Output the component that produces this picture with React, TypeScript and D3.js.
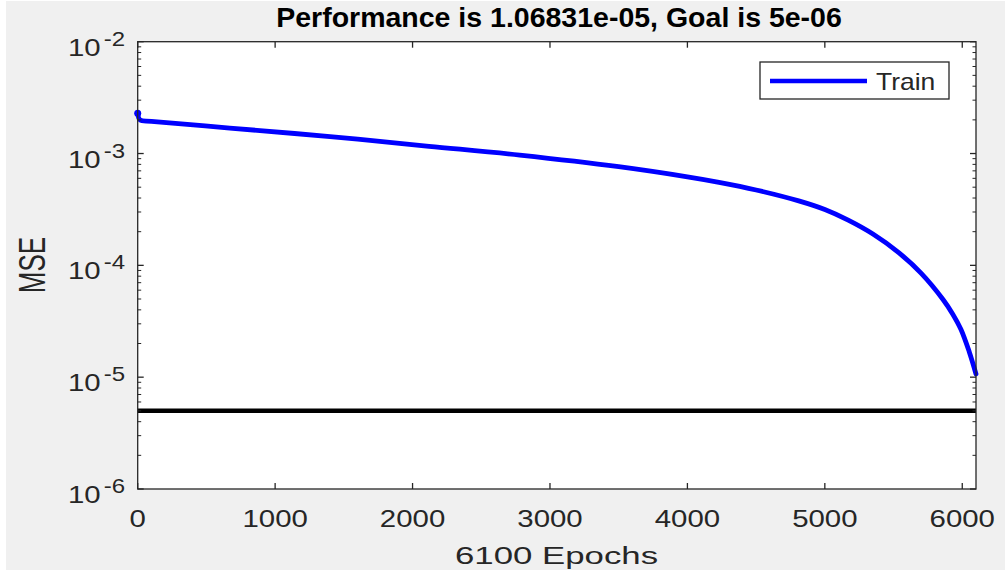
import React from "react";
import * as d3 from "d3";

const epochs = [0, 17, 100, 670, 1400, 2120, 2780, 3500, 4000, 4230, 4500, 4810, 5000, 5170, 5350, 5540, 5700, 5860, 5930, 5990, 6050, 6100];
const mse = [2.291e-3, 1.995e-3, 1.941e-3, 1.69e-3, 1.416e-3, 1.161e-3, 9.68e-4, 7.62e-4, 6.18e-4, 5.52e-4, 4.72e-4, 3.77e-4, 3.155e-4, 2.535e-4, 1.905e-4, 1.294e-4, 8.53e-5, 4.955e-5, 3.68e-5, 2.685e-5, 1.7e-5, 1.06831e-5];
const goal = 5e-6;
const xTicks = [0, 1000, 2000, 3000, 4000, 5000, 6000];
const yExponents = [-2, -3, -4, -5, -6];
const title = "Performance is 1.06831e-05, Goal is 5e-06";
const xLabel = "6100 Epochs";
const yLabel = "MSE";
const legendLabel = "Train";

const W = 1005, H = 572;
const L = 137.7, R = 976, T = 41.7, B = 489;
const AX = "#262626";
const FONT = "'Liberation Sans', Arial, Helvetica, sans-serif";

export default function App() {
  const x = d3.scaleLinear().domain([0, 6100]).range([L, R]);
  const y = d3.scaleLog().domain([1e-6, 1e-2]).range([B, T]);
  const line = d3.line<number>().x((_, i) => x(epochs[i])).y((d) => y(d)).curve(d3.curveCatmullRom.alpha(0.5));
  const minor = y.ticks().filter((v) => Math.abs(Math.log10(v) - Math.round(Math.log10(v))) > 1e-6);
  const sx = 1.2;
  return (
    <svg width={W} height={H} style={{ position: "fixed", left: 0, top: 0, background: "#fff" }} fontFamily={FONT}>
      <rect x={6} y={1} width={W - 6} height={569} fill="#f0f0f0" />
      <rect x={L} y={T} width={R - L} height={B - T} fill="#fff" />
      {/* goal line */}
      <line x1={x(0)} x2={x(6100)} y1={y(goal)} y2={y(goal)} stroke="#000" strokeWidth={4.5} />
      {/* performance */}
      <path d={line(mse) || ""} fill="none" stroke="#0000ff" strokeWidth={4.8} strokeLinejoin="round" strokeLinecap="round" />
      <circle cx={x(0)} cy={y(mse[0])} r={3.5} fill="#0000ff" />
      {/* axes box */}
      <rect x={L} y={T} width={R - L} height={B - T} fill="none" stroke={AX} strokeWidth={1.3} />
      {xTicks.map((t) => (
        <g key={"xt" + t}>
          <line x1={x(t)} x2={x(t)} y1={B} y2={B - 6} stroke={AX} strokeWidth={1.3} />
          <line x1={x(t)} x2={x(t)} y1={T} y2={T + 6} stroke={AX} strokeWidth={1.3} />
          <text transform={`translate(${x(t)},527) scale(${sx},1)`} textAnchor="middle" fontSize={24.5} fill={AX}>{t}</text>
        </g>
      ))}
      {yExponents.map((e) => {
        const v = Math.pow(10, e);
        return (
          <g key={"yt" + e}>
            <line x1={L} x2={L + 6} y1={y(v)} y2={y(v)} stroke={AX} strokeWidth={1.3} />
            <line x1={R} x2={R - 6} y1={y(v)} y2={y(v)} stroke={AX} strokeWidth={1.3} />
            <text transform={`translate(125,${y(v) + 14}) scale(${sx},1)`} textAnchor="end" fontSize={24.5} fill={AX}>
              10<tspan dx={2.5} dy={-10} fontSize={20}>{"-" + Math.abs(e)}</tspan>
            </text>
          </g>
        );
      })}
      {minor.map((v, i) => (
        <g key={"mn" + i}>
          <line x1={L} x2={L + 3.5} y1={y(v)} y2={y(v)} stroke={AX} strokeWidth={1} />
          <line x1={R} x2={R - 3.5} y1={y(v)} y2={y(v)} stroke={AX} strokeWidth={1} />
        </g>
      ))}
      {/* labels */}
      <text x={559} y={26.5} textAnchor="middle" fontSize={28.5} fontWeight="bold" fill="#000">{title}</text>
      <text transform={`translate(556.5,564) scale(1.45,1)`} textAnchor="middle" fontSize={24} fill={AX}>{xLabel}</text>
      <text transform={`translate(45,265) scale(1.45,1) rotate(-90)`} textAnchor="middle" fontSize={26} fill={AX}>{yLabel}</text>
      {/* legend */}
      <rect x={760} y={62} width={189} height={37} fill="#fff" stroke={AX} strokeWidth={1.3} />
      <line x1={770} x2={867} y1={81} y2={81} stroke="#0000ff" strokeWidth={4.5} />
      <text transform={`translate(876,90) scale(1.15,1)`} fontSize={23} fill={AX}>{legendLabel}</text>
    </svg>
  );
}
